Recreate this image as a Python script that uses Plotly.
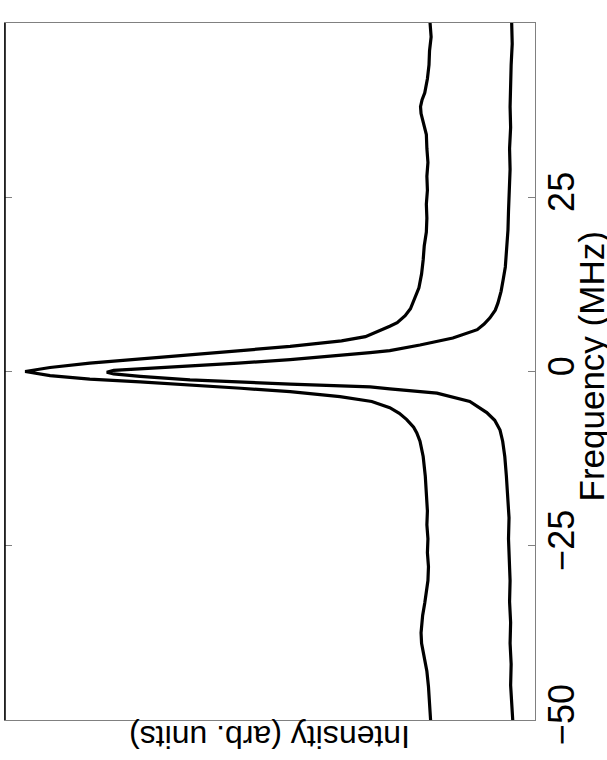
import plotly.graph_objects as go

# frequency (MHz) and intensity (arb. units, 0..1 across the frame), outer trace
freq_a = [50, 48, 46, 44, 42, 40, 39, 38, 37, 36, 35, 34, 32, 30, 28, 26, 24, 22, 20,
          18, 16, 14, 12, 10, 9, 8, 7, 6.5, 5.5, 5.0, 4.4, 3.6, 3.0, 2.4, 1.8, 1.2, 0.57,
          0.0, -0.6, -1.1, -1.5, -1.9, -2.4, -2.9, -3.6, -4.3, -5.2, -6.0, -6.9, -8.0,
          -8.8, -10, -12.2, -15, -18, -20, -22, -24, -26, -28, -30, -32, -33.2, -35,
          -37.5, -39, -41.4, -43, -45.2, -47, -50]
int_a = [0.198, 0.196, 0.199, 0.200, 0.203, 0.208, 0.213, 0.216, 0.215, 0.212, 0.208,
         0.205, 0.204, 0.202, 0.204, 0.203, 0.205, 0.204, 0.205, 0.209, 0.211, 0.214,
         0.219, 0.229, 0.235, 0.245, 0.260, 0.274, 0.303, 0.320, 0.365, 0.462, 0.555,
         0.651, 0.745, 0.840, 0.915, 0.962, 0.915, 0.840, 0.745, 0.651, 0.555, 0.462,
         0.368, 0.308, 0.274, 0.256, 0.242, 0.229, 0.223, 0.217, 0.211, 0.207, 0.204,
         0.203, 0.204, 0.202, 0.203, 0.201, 0.202, 0.205, 0.208, 0.212, 0.215, 0.214,
         0.208, 0.204, 0.201, 0.200, 0.197]

# inner trace
freq_b = [50, 47, 44, 41, 38, 35, 32, 29, 26, 23, 20.3, 17.9, 15, 13.2, 11.5, 9.8, 8.8,
          7.7, 6.8, 6.0, 4.8, 3.8, 3.0, 2.7, 1.7, 1.2, 0.8, 0.45, 0.15, -0.1, -0.35, -0.7,
          -1.2, -1.8, -2.2, -2.5, -3.1, -4.3, -5.9, -7.0, -8.4, -10, -12.2, -15, -18, -21,
          -24, -27, -30, -33, -36, -39, -42, -45, -48, -50]
int_b = [0.044, 0.043, 0.045, 0.046, 0.047, 0.046, 0.048, 0.047, 0.049, 0.050, 0.051,
         0.053, 0.056, 0.060, 0.064, 0.070, 0.075, 0.085, 0.096, 0.109, 0.155, 0.217,
         0.274, 0.311, 0.462, 0.560, 0.651, 0.745, 0.795, 0.808, 0.795, 0.745, 0.651,
         0.462, 0.311, 0.274, 0.185, 0.123, 0.091, 0.076, 0.066, 0.061, 0.057, 0.054,
         0.051, 0.049, 0.050, 0.048, 0.047, 0.048, 0.046, 0.047, 0.045, 0.046, 0.043,
         0.042]

freq_ticks = [-50, -25, 0, 25, 50]
freq_labels = ["\u221250", "\u221225", "0", "25", "50"]

FONT = "Liberation Sans, Arial, Helvetica, sans-serif"
GRAY = "#808080"

fig = go.Figure()

# figure is drawn turned a quarter turn: frequency runs up the right side
for f, i in [(freq_a, int_a), (freq_b, int_b)]:
    fig.add_trace(go.Scatter(
        x=i, y=f,
        mode="lines",
        line=dict(color="black", width=3.2),
        showlegend=False,
        hoverinfo="skip",
    ))

fig.update_layout(
    width=607, height=760,
    margin=dict(l=5, r=72, t=23, b=40, autoexpand=False),
    plot_bgcolor="white",
    paper_bgcolor="white",
    font=dict(family=FONT, color="black", size=36),
    xaxis=dict(
        range=[1, 0],
        showgrid=False, zeroline=False,
        showticklabels=False, ticks="",
        showline=True, linecolor=GRAY, linewidth=1, mirror=True,
        automargin=False,
    ),
    yaxis=dict(
        range=[-50, 50],
        side="right",
        tickvals=freq_ticks, ticktext=freq_labels,
        tickangle=-90,
        ticks="inside", ticklen=7, tickcolor=GRAY, tickwidth=1,
        ticklabelstandoff=-5,
        showgrid=False, zeroline=False,
        showline=True, linecolor=GRAY, linewidth=1, mirror="ticks",
        tickfont=dict(size=36, family=FONT),
        automargin=False,
    ),
)

# left frame edge is black
fig.add_shape(type="line", xref="paper", yref="paper", x0=0, x1=0, y0=0, y1=1,
              line=dict(color="black", width=1.5))

# axis titles, turned with the figure
fig.add_annotation(
    text="Frequency (MHz)",
    xref="paper", yref="paper", x=1, y=0.5,
    xanchor="center", yanchor="middle", xshift=56, yshift=5,
    textangle=-90, showarrow=False,
    font=dict(size=35, family=FONT, color="black"),
)
fig.add_annotation(
    text="Intensity (arb. units)",
    xref="paper", yref="paper", x=0.5, y=0,
    xanchor="center", yanchor="top", yshift=3,
    textangle=180, showarrow=False,
    font=dict(size=32, family=FONT, color="black"),
)

# drop the page's default body margin so the figure sits at the window corner
fig.write_html("out.html", config={"displayModeBar": False},
               post_script="document.body.style.margin='0';")
